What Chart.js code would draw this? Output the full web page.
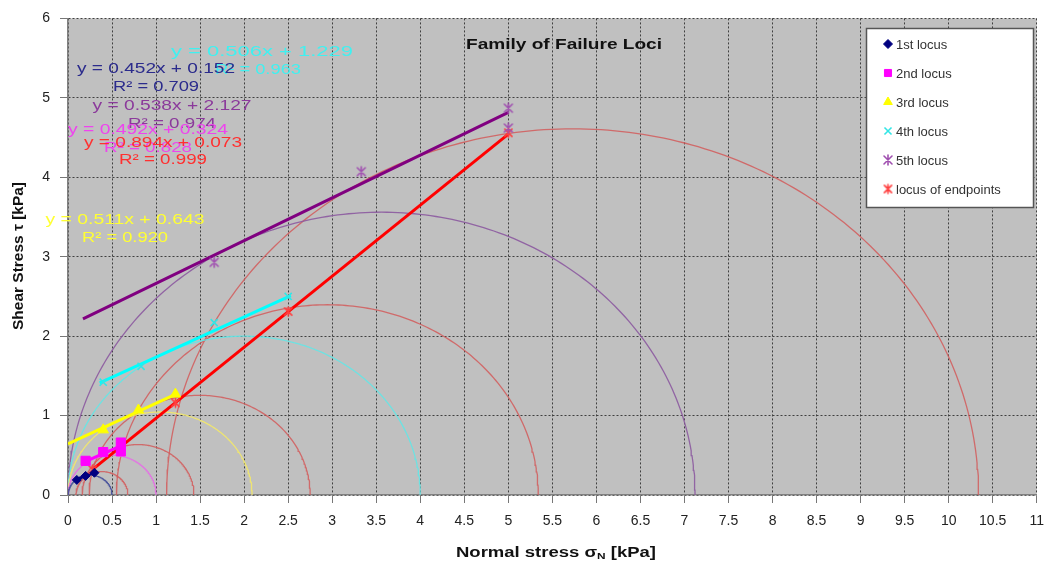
<!DOCTYPE html>
<html><head><meta charset="utf-8">
<script src="https://cdn.jsdelivr.net/npm/chart.js@4.4.1/dist/chart.umd.min.js"></script>
<style>html,body{margin:0;padding:0;background:#fff;overflow:hidden}#wrap{position:relative;width:1054px;height:569px}</style>
</head><body><div id="wrap"><canvas id="c" width="1054" height="569"></canvas></div>
<script>
// ---------------- data ----------------
const seriesNames = ['1st locus','2nd locus','3rd locus','4th locus','5th locus','locus of endpoints'];
const locus1X = [0.1, 0.2, 0.3];
const locus1Y = [0.19, 0.24, 0.28];
const locus2X = [0.2, 0.4, 0.6, 0.6];
const locus2Y = [0.43, 0.54, 0.55, 0.66];
const locus3X = [0.4, 0.8, 1.22];
const locus3Y = [0.82, 1.07, 1.27];
const locus4X = [0.4, 0.83, 1.66, 2.5];
const locus4Y = [1.42, 1.62, 2.17, 2.5];
const locus5X = [1.66, 3.33, 5.0, 5.0];
const locus5Y = [2.93, 4.07, 4.87, 4.62];
const endX = [0.28, 0.6, 1.22, 2.5, 5.0];
const endY = [0.32, 0.61, 1.16, 2.31, 4.56];
const trendSlopes = [0.452, 0.492, 0.511, 0.506, 0.538, 0.894];
const trendIntercepts = [0.152, 0.324, 0.643, 1.229, 2.127, 0.073];
const trendR2 = [0.709, 0.828, 0.920, 0.963, 0.974, 0.999];
const trendFrom = [0.1, 0.2, 0.0, 0.36, 0.17, 0.28];
const trendTo = [0.3, 0.6, 1.25, 2.53, 5.0, 5.0];
const yieldCenters = [0.25, 0.5, 1.045, 2.0, 3.56];
const yieldRadii = [0.25, 0.5, 1.045, 2.0, 3.56];
const consolCenters = [0.385, 0.795, 1.495, 2.945, 5.73];
const consolRadii = [0.295, 0.635, 1.255, 2.395, 4.61];
const xTickValues = [0,0.5,1,1.5,2,2.5,3,3.5,4,4.5,5,5.5,6,6.5,7,7.5,8,8.5,9,9.5,10,10.5,11];
const xTickLabels = ['0','0.5','1','1.5','2','2.5','3','3.5','4','4.5','5','5.5','6','6.5','7','7.5','8','8.5','9','9.5','10','10.5','11'];
const yTickValues = [0,1,2,3,4,5,6];
const yTickLabels = ['0','1','2','3','4','5','6'];
const chartTitle = 'Family of Failure Loci';
const yTitle = 'Shear Stress \u03c4 [kPa]';

// ---------------- styles ----------------
function excelStar(color, r, lw) {
  const s = Math.ceil(2 * r + 2 * lw + 2);
  const cv = document.createElement('canvas');
  cv.width = s; cv.height = s;
  const g = cv.getContext('2d');
  const c = s / 2;
  g.strokeStyle = color; g.lineWidth = lw; g.lineCap = 'round';
  g.beginPath();
  g.moveTo(c - r * 0.8, c - r * 0.8); g.lineTo(c + r * 0.8, c + r * 0.8);
  g.moveTo(c + r * 0.8, c - r * 0.8); g.lineTo(c - r * 0.8, c + r * 0.8);
  g.moveTo(c, c - r); g.lineTo(c, c + r);
  g.stroke();
  return cv;
}
const seriesX = [locus1X, locus2X, locus3X, locus4X, locus5X, endX];
const seriesY = [locus1Y, locus2Y, locus3Y, locus4Y, locus5Y, endY];
const markerStyle = [
  {style:'rectRot', r:4.5, fill:'#000080', stroke:'#000080', w:1},
  {style:'rect', r:6.5, fill:'#ff00ff', stroke:'#ff00ff', w:1},
  {style:'triangle', r:6, fill:'#ffff00', stroke:'#ffff00', w:1},
  {style:'crossRot', r:5, fill:'#33e6e6', stroke:'#33e6e6', w:1.6},
  {style:excelStar('#a050b0', 5, 1.6), r:5, fill:'#a050b0', stroke:'#a050b0', w:1.6},
  {style:excelStar('#ff4040', 4.5, 1.6), r:4.5, fill:'#ff4040', stroke:'#ff4040', w:1.6}
];
const trendColors = ['#000080','#ff00ff','#ffff00','#00ffff','#800080','#ff0000'];
const yieldColors = ['rgba(60,70,150,0.85)','rgba(230,110,230,0.9)','rgba(240,230,110,0.95)','rgba(100,230,230,0.9)','rgba(140,90,160,0.9)'];
const consolColor = 'rgba(210,90,90,0.85)';
const labelColors = ['#2b2b8c','#ee44ee','#ffff33','#40f0f0','#8b3a9b','#ff3030'];
// label layout: [cx, cy, width] for equation and R² lines (pixels)
const labelLayout = [
  {eq:[156,69,158], r:[156,87,86]},
  {eq:[148,130,160], r:[148,148,88]},
  {eq:[125,220,159], r:[125,238,86]},
  {eq:[262,52,182], r:[258,70,86]},
  {eq:[172,106,159], r:[172,124,88]},
  {eq:[163,143,158], r:[163,160,88]}
];
const labelDrawOrder = [2,3,0,4,1,5];

function semicircle(c, r) {
  const pts = [];
  for (let d = 0; d <= 180; d += 1) {
    const a = d * Math.PI / 180;
    pts.push({x: c + r * Math.cos(a), y: Math.max(0, r * Math.sin(a))});
  }
  return pts;
}

const datasets = [];
for (let i = 0; i < 6; i++) {
  const m = markerStyle[i];
  datasets.push({
    label: seriesNames[i],
    data: seriesX[i].map((x, k) => ({x, y: seriesY[i][k]})),
    showLine: false, pointStyle: m.style, pointRadius: m.r,
    backgroundColor: m.fill, borderColor: m.stroke, borderWidth: m.w, order: 0
  });
}
for (let i = 0; i < 6; i++) {
  datasets.push({
    label: 'trend ' + i,
    data: [trendFrom[i], trendTo[i]].map(x => ({x, y: trendSlopes[i] * x + trendIntercepts[i]})),
    showLine: true, borderColor: trendColors[i], borderWidth: 3, pointRadius: 0, order: 1
  });
}
for (let i = 0; i < yieldCenters.length; i++) {
  datasets.push({label:'yield '+i, data: semicircle(yieldCenters[i], yieldRadii[i]), showLine:true,
    borderColor: yieldColors[i], borderWidth: 1.3, pointRadius: 0, order: 2});
}
for (let i = 0; i < consolCenters.length; i++) {
  datasets.push({label:'consol '+i, data: semicircle(consolCenters[i], consolRadii[i]), showLine:true,
    borderColor: consolColor, borderWidth: 1.3, pointRadius: 0, order: 2});
}

function drawText(ctx, text, cx, cy, font, color, width) {
  ctx.save();
  ctx.font = font;
  const w = ctx.measureText(text).width;
  const s = width ? width / w : 1;
  ctx.translate(cx, cy);
  ctx.scale(s, 1);
  ctx.fillStyle = color;
  ctx.textAlign = 'center';
  ctx.textBaseline = 'middle';
  ctx.fillText(text, 0, 0);
  ctx.restore();
}

function drawMarker(ctx, m, x, y) {
  ctx.save();
  ctx.fillStyle = m.fill; ctx.strokeStyle = m.stroke; ctx.lineWidth = m.w;
  if (Chart.helpers && Chart.helpers.drawPoint) {
    Chart.helpers.drawPoint(ctx, {pointStyle: m.style, radius: m.r, borderWidth: m.w, rotation: 0}, x, y);
  }
  ctx.restore();
}

const bgPlugin = {
  id: 'bg',
  beforeDraw(chart) {
    const {ctx, chartArea: a} = chart;
    ctx.save();
    ctx.fillStyle = '#ffffff';
    ctx.fillRect(0, 0, chart.width, chart.height);
    ctx.fillStyle = '#c0c0c0';
    ctx.fillRect(a.left, a.top, a.right - a.left, a.bottom - a.top);
    ctx.restore();
  }
};

const textPlugin = {
  id: 'texts',
  afterDraw(chart) {
    const ctx = chart.ctx;
    // title
    drawText(ctx, chartTitle, 564, 45, 'bold 15px "Liberation Sans", Arial, sans-serif', '#111', 196);
    // equations
    labelDrawOrder.forEach(i => {
      const L = labelLayout[i];
      const eq = 'y = ' + trendSlopes[i].toFixed(3) + 'x + ' + trendIntercepts[i].toFixed(3);
      const r2 = 'R\u00b2 = ' + trendR2[i].toFixed(3);
      drawText(ctx, eq, L.eq[0], L.eq[1], '15px "Liberation Sans", Arial, sans-serif', labelColors[i], L.eq[2]);
      drawText(ctx, r2, L.r[0], L.r[1], '15px "Liberation Sans", Arial, sans-serif', labelColors[i], L.r[2]);
    });
    // legend
    ctx.save();
    ctx.fillStyle = '#ffffff';
    ctx.fillRect(866, 28, 168, 180);
    ctx.strokeStyle = '#555';
    ctx.lineWidth = 1.5;
    ctx.strokeRect(866.5, 28.5, 167, 179);
    ctx.restore();
    const rows = [44, 73, 102, 131, 160, 189];
    for (let i = 0; i < 6; i++) {
      const m = Object.assign({}, markerStyle[i]);
      m.r = Math.min(m.r, 5);
      drawMarker(ctx, m, 888, rows[i]);
      ctx.save();
      ctx.font = '13px "Liberation Sans", Arial, sans-serif';
      ctx.fillStyle = '#333';
      ctx.textAlign = 'left';
      ctx.textBaseline = 'middle';
      ctx.fillText(seriesNames[i], 896, rows[i] + 1);
      ctx.restore();
    }
    // x title with subscript
    ctx.save();
    const f1 = 'bold 14px "Liberation Sans", Arial, sans-serif';
    const f2 = 'bold 9px "Liberation Sans", Arial, sans-serif';
    const p1 = 'Normal stress \u03c3', p2 = 'N', p3 = ' [kPa]';
    ctx.font = f1; const w1 = ctx.measureText(p1).width, w3 = ctx.measureText(p3).width;
    ctx.font = f2; const w2 = ctx.measureText(p2).width;
    const total = w1 + w2 + w3, target = 200, s = target / total;
    ctx.translate(556 - target / 2, 553);
    ctx.scale(s, 1);
    ctx.fillStyle = '#111'; ctx.textBaseline = 'middle'; ctx.textAlign = 'left';
    ctx.font = f1; ctx.fillText(p1, 0, 0);
    ctx.font = f2; ctx.fillText(p2, w1, 4);
    ctx.font = f1; ctx.fillText(p3, w1 + w2, 0);
    ctx.restore();
    // y title
    ctx.save();
    ctx.translate(19, 256);
    ctx.rotate(-Math.PI / 2);
    drawText(ctx, yTitle, 0, 0, 'bold 14px "Liberation Sans", Arial, sans-serif', '#111', 148);
    ctx.restore();
  }
};

new Chart(document.getElementById('c'), {
  type: 'scatter',
  data: {datasets},
  options: {
    responsive: false, animation: false, events: [],
    layout: {padding: {top: 16, right: 14, left: 0, bottom: 0}},
    plugins: {legend: {display: false}, tooltip: {enabled: false}, title: {display: false}},
    scales: {
      x: {
        type: 'linear', min: 0, max: 11,
        afterBuildTicks: sc => { sc.ticks = xTickValues.map(v => ({value: v})); },
        afterFit: sc => { sc.height = 74; },
        ticks: {callback: (v, i) => xTickLabels[i], font: {size: 14, family: '"Liberation Sans", Arial, sans-serif'}, color: '#222', padding: 10, maxRotation: 0, autoSkip: false},
        grid: {color: '#404040', lineWidth: 1, tickLength: 8, tickColor: '#777', tickBorderDash: []},
        border: {display: true, color: '#808080', width: 1.5, dash: [2, 2]}
      },
      y: {
        type: 'linear', min: 0, max: 6,
        afterBuildTicks: sc => { sc.ticks = yTickValues.map(v => ({value: v})); },
        afterFit: sc => { sc.width = 68; },
        ticks: {callback: (v, i) => yTickLabels[i], font: {size: 14, family: '"Liberation Sans", Arial, sans-serif'}, color: '#222', padding: 10},
        grid: {color: '#404040', lineWidth: 1, tickLength: 8, tickColor: '#777', tickBorderDash: []},
        border: {display: true, color: '#808080', width: 1.5, dash: [2, 2]}
      }
    }
  },
  plugins: [bgPlugin, textPlugin]
});
</script>
</body></html>
